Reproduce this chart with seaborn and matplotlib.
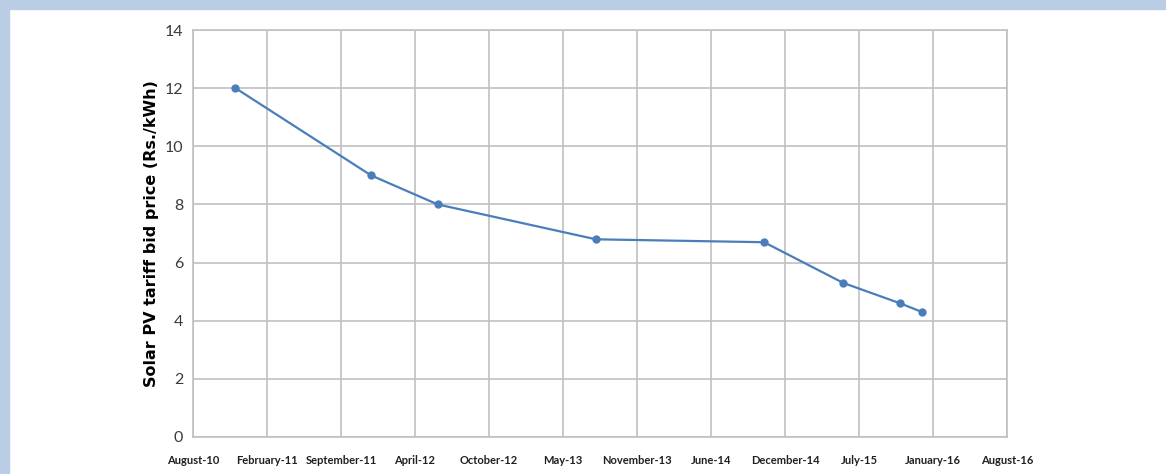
import numpy as np
import pandas as pd
import seaborn as sns
import matplotlib.pyplot as plt
from matplotlib.patches import Rectangle
import matplotlib.dates as mdates

# bid dates and tariffs (Rs./kWh)
bid_dates = ["2010-11-25", "2011-11-30", "2012-05-30", "2013-08-05",
             "2014-11-07", "2015-06-11", "2015-11-13", "2016-01-12"]
tariffs = [12.0, 9.0, 8.0, 6.8, 6.7, 5.3, 4.6, 4.3]

tick_labels = ["August-10", "February-11", "September-11", "April-12", "October-12",
               "May-13", "November-13", "June-14", "December-14", "July-15",
               "January-16", "August-16"]
axis_start = "2010-08-01"
axis_end = "2016-08-31"

df = pd.DataFrame({"date": pd.to_datetime(bid_dates), "tariff": tariffs})

sns.set_style("white")
plt.rcParams["font.family"] = ["Lato", "DejaVu Sans"]

fig = plt.figure(figsize=(11.66, 4.74), dpi=100)
ax = fig.add_axes([193 / 1166, 1 - 437 / 474, (1007 - 193) / 1166, (437 - 30) / 474])

sns.lineplot(data=df, x="date", y="tariff", ax=ax, color="#4a7ebb", linewidth=1.6,
             marker="o", markersize=6, markeredgewidth=0)

x0 = mdates.date2num(pd.Timestamp(axis_start))
x1 = mdates.date2num(pd.Timestamp(axis_end))
ticks = np.linspace(x0, x1, len(tick_labels))
ax.set_xlim(x0, x1)
ax.set_xticks(ticks)
ax.set_xticklabels(tick_labels, fontsize=8, fontweight="bold", color="#231f20")
ax.set_ylim(0, 14)
ax.set_yticks(range(0, 15, 2))
ax.tick_params(axis="y", labelsize=11.5, labelcolor="#3a3a3a", pad=7, length=0)
ax.tick_params(axis="x", pad=13, length=0)

ax.grid(True, color="#c0c0c0", linewidth=1.2)
for s in ["left", "bottom", "right", "top"]:
    ax.spines[s].set_color("#c0c0c0")
    ax.spines[s].set_linewidth(1.2)

ax.set_xlabel("")
ax.set_ylabel("Solar PV tariff bid price (Rs./kWh)", fontsize=11.5, fontweight="bold",
              color="black", labelpad=4, family=["DejaVu Sans"])

# light blue frame strips
fig.patches.append(Rectangle((0, 1 - 9 / 474), 1, 9 / 474, transform=fig.transFigure,
                             color="#b9cde5", zorder=0))
fig.patches.append(Rectangle((0, 0), 9 / 1166, 1, transform=fig.transFigure,
                             color="#b9cde5", zorder=0))

fig.savefig("out.png", dpi=100)
